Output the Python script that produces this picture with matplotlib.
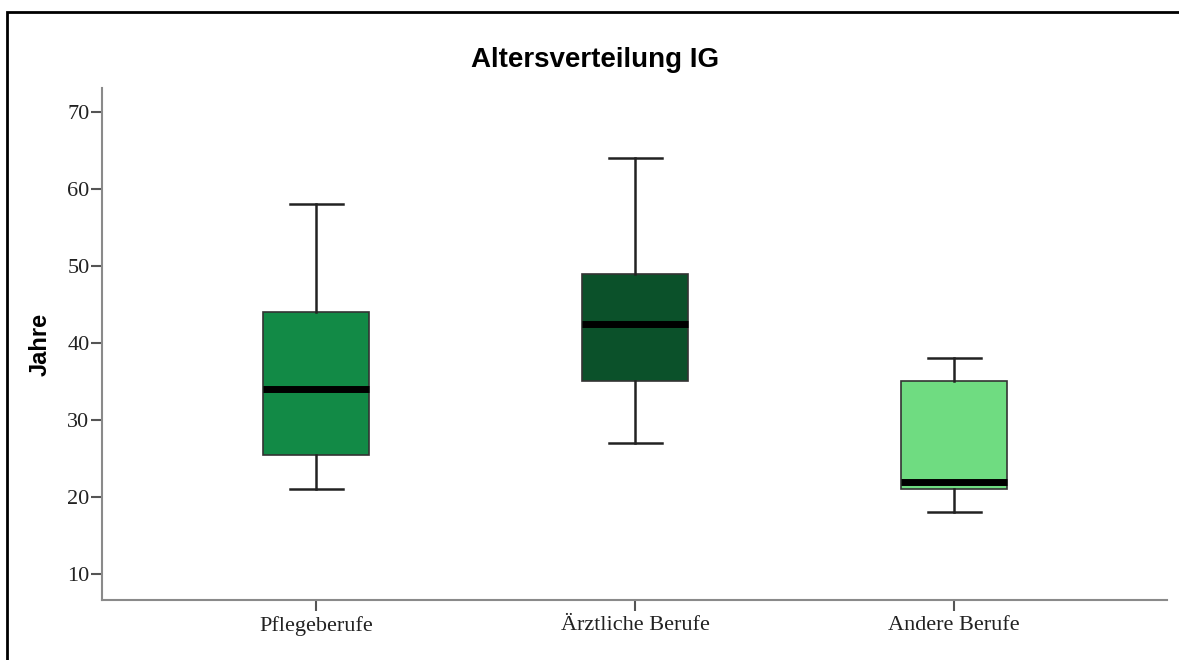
import matplotlib.pyplot as plt
from matplotlib.patches import Rectangle

# Altersverteilung je Berufsgruppe (Jahre)
gruppen = ['Pflegeberufe', 'Ärztliche Berufe', 'Andere Berufe']
minimum = [21, 27, 18]
q1 = [25.5, 35, 21]
median = [34, 42.5, 22]
q3 = [44, 49, 35]
maximum = [58, 64, 38]
farben = ['#128a46', '#0b512a', '#6fdc81']

stats = []
for g, lo, a, m, b, hi in zip(gruppen, minimum, q1, median, q3, maximum):
    stats.append({'label': g, 'whislo': lo, 'q1': a, 'med': m, 'q3': b, 'whishi': hi, 'fliers': []})

fig = plt.figure(figsize=(11.79, 6.6), dpi=100)
ax = fig.add_axes([0.0865, 0.0909, 0.9035, 0.7758])

bp = ax.bxp(stats, positions=[1, 2, 3], widths=0.332, patch_artist=True,
            showfliers=False,
            boxprops=dict(edgecolor='#333333', linewidth=1.2),
            whiskerprops=dict(color='#222222', linewidth=1.8),
            capprops=dict(color='#222222', linewidth=1.8),
            medianprops=dict(color='black', linewidth=5, solid_capstyle='butt'),
            capwidths=0.166)
for patch, c in zip(bp['boxes'], farben):
    patch.set_facecolor(c)

ax.set_xlim(0.329, 3.668)
ax.set_ylim(6.62, 73.12)
ax.set_yticks(range(10, 71, 10))

for s in ['top', 'right']:
    ax.spines[s].set_visible(False)
for s in ['left', 'bottom']:
    ax.spines[s].set_color('#8a8a8a')
    ax.spines[s].set_linewidth(1.5)
ax.tick_params(axis='both', colors='#555555', length=8, width=1.5, labelsize=16)
ax.tick_params(axis='y', pad=1)
for lab in ax.get_xticklabels() + ax.get_yticklabels():
    lab.set_fontfamily('Liberation Serif')
    lab.set_color('#222222')

ax.set_ylabel('Jahre', fontfamily='Liberation Sans', fontweight='bold', fontsize=17)
ax.yaxis.set_label_coords(-0.047, 0.5)
fig.text(595 / 1179, 1 - 60 / 660, 'Altersverteilung IG', ha='center', va='center',
         fontfamily='Liberation Sans', fontweight='bold', fontsize=20)

# Rahmen um die Grafik
fig.patches.append(Rectangle((7 / 1179, -0.1), 1.2, 1.1 - 12 / 660, transform=fig.transFigure,
                             fill=False, edgecolor='black', linewidth=2))

fig.savefig('out.png', dpi=100)
